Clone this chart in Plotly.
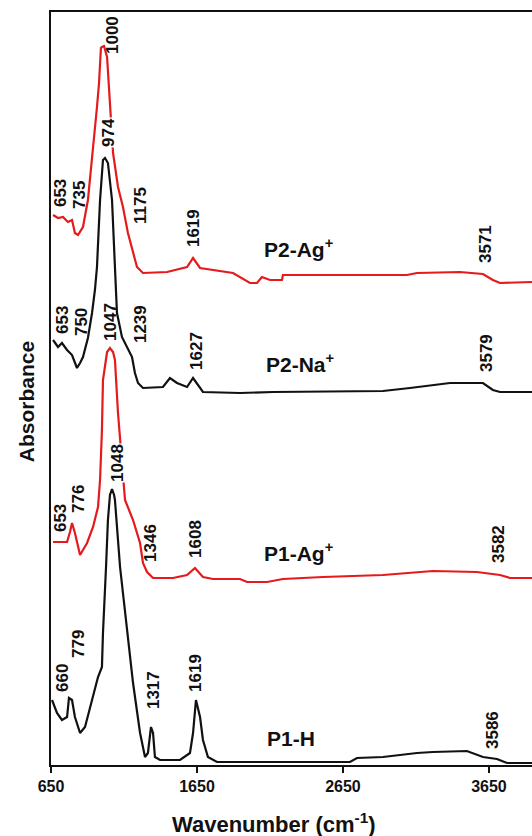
import plotly.graph_objects as go

# ---- data (wavenumber cm-1, absorbance a.u., offset-stacked) ----
p1h_wn = [657, 691, 725, 760, 773, 794, 814, 849, 883, 917, 951, 972, 999, 1006, 1027, 1040, 1054, 1068,
          1082, 1088, 1123, 1171, 1212, 1260, 1294, 1314, 1335, 1349, 1362, 1397, 1534, 1602, 1623, 1643,
          1671, 1691, 1725, 1787, 2698, 2746, 2924, 3157, 3266, 3499, 3540, 3609, 3705, 3774, 3945]
p1h_ab = [0.65, 0.52, 0.45, 0.48, 0.67, 0.65, 0.48, 0.32, 0.38, 0.58, 0.78, 0.88, 0.98, 1.32, 1.98, 2.45, 2.70, 2.76,
          2.70, 2.65, 1.98, 1.32, 0.82, 0.32, 0.08, 0.12, 0.38, 0.32, 0.08, 0.05, 0.05, 0.12, 0.32, 0.65,
          0.48, 0.25, 0.08, 0.03, 0.03, 0.07, 0.08, 0.12, 0.13, 0.14, 0.12, 0.08, 0.06, 0.02, 0.02]

p1ag_wn = [664, 760, 780, 794, 814, 849, 897, 938, 972, 986, 999, 1006, 1034, 1054, 1075, 1088, 1109, 1136,
           1157, 1212, 1260, 1280, 1308, 1349, 1486, 1582, 1636, 1691, 1760, 1945, 1993, 2130, 2239, 2513,
           2924, 3266, 3568, 3726, 3794, 3945]
p1ag_ab = [2.23, 2.23, 2.33, 2.42, 2.32, 2.10, 2.22, 2.38, 2.58, 2.85, 3.35, 3.85, 4.13, 4.17, 4.13, 4.05, 3.52, 3.02,
           2.65, 2.45, 2.22, 2.02, 1.93, 1.87, 1.87, 1.90, 1.97, 1.88, 1.86, 1.86, 1.83, 1.83, 1.86, 1.88,
           1.90, 1.94, 1.93, 1.90, 1.87, 1.87]

p2na_wn = [664, 698, 725, 760, 794, 828, 849, 869, 903, 931, 951, 965, 986, 1006, 1013, 1020, 1040, 1068, 1088,
           1102, 1136, 1171, 1205, 1225, 1246, 1280, 1417, 1465, 1513, 1582, 1623, 1691, 1945, 2171, 2924,
           3109, 3383, 3609, 3677, 3726, 3945]
p2na_ab = [4.25, 4.18, 4.22, 4.15, 4.10, 3.97, 4.02, 4.08, 4.27, 4.52, 4.75, 4.98, 5.65, 6.05, 6.06, 6.07, 6.02, 5.65, 4.98,
           4.52, 4.28, 4.18, 4.08, 3.92, 3.82, 3.77, 3.78, 3.87, 3.82, 3.78, 3.87, 3.73, 3.72, 3.73, 3.74,
           3.77, 3.82, 3.82, 3.75, 3.73, 3.73]

p2ag_wn = [664, 698, 732, 766, 794, 814, 835, 869, 903, 938, 965, 979, 992, 999, 1013, 1034, 1054, 1075, 1109,
           1143, 1177, 1212, 1239, 1280, 1445, 1582, 1623, 1671, 1897, 2013, 2061, 2095, 2150, 2232, 2239,
           3088, 3157, 3451, 3609, 3677, 3726, 3945]
p2ag_ab = [5.50, 5.47, 5.48, 5.43, 5.45, 5.32, 5.30, 5.38, 5.65, 6.15, 6.58, 6.82, 7.17, 7.18, 7.19, 7.08, 6.65, 6.12, 5.78,
           5.58, 5.32, 5.12, 4.98, 4.92, 4.93, 4.98, 5.07, 4.97, 4.92, 4.82, 4.82, 4.88, 4.85, 4.85, 4.90,
           4.90, 4.92, 4.93, 4.91, 4.85, 4.82, 4.83]

# peak labels: text, wavenumber position, absorbance position
peak_text = ["1000", "974", "653", "735", "1175", "1619", "3571",
             "653", "750", "1047", "1239", "1627", "3579",
             "653", "776", "1048", "1346", "1608", "3582",
             "660", "779", "1317", "1619", "3586"]
peak_x = [1068, 1040, 712, 842, 1260, 1623, 3623,
          725, 856, 1054, 1260, 1643, 3630,
          712, 835, 1102, 1328, 1636, 3712,
          725, 835, 1349, 1636, 3671]
peak_y = [7.30, 6.33, 5.72, 5.70, 5.59, 5.37, 5.21,
          4.45, 4.43, 4.43, 4.41, 4.14, 4.12,
          2.47, 2.66, 3.02, 2.22, 2.26, 2.21,
          0.87, 1.21, 0.75, 0.92, 0.35]
masked_labels = [1, 15]   # indices of labels drawn over a white box

series_names = ["P2-Ag<sup>+</sup>", "P2-Na<sup>+</sup>", "P1-Ag<sup>+</sup>", "P1-H"]
name_x = [2342, 2356, 2342, 2294]
name_y = [5.17, 4.02, 2.13, 0.27]

x_ticks = [650, 1650, 2650, 3650]

RED = "#e41a1c"
BLACK = "#111111"

fig = go.Figure()
for wn, ab, col in [(p1h_wn, p1h_ab, BLACK), (p1ag_wn, p1ag_ab, RED),
                    (p2na_wn, p2na_ab, BLACK), (p2ag_wn, p2ag_ab, RED)]:
    fig.add_trace(go.Scatter(x=wn, y=ab, mode="lines", line=dict(color=col, width=2.2),
                             showlegend=False, hoverinfo="skip"))

for i, (t, x, y) in enumerate(zip(peak_text, peak_x, peak_y)):
    fig.add_annotation(x=x, y=y, xref="x", yref="y", text="<b>" + t + "</b>", textangle=-90,
                       showarrow=False, xanchor="center", yanchor="middle",
                       font=dict(family="Liberation Sans", size=17, color="#111"),
                       bgcolor="white" if i in masked_labels else "rgba(0,0,0,0)",
                       borderpad=0)

for t, x, y in zip(series_names, name_x, name_y):
    fig.add_annotation(x=x, y=y, xref="x", yref="y", text="<b>" + t + "</b>", showarrow=False,
                       xanchor="center", yanchor="middle",
                       font=dict(family="Liberation Sans", size=21, color="#111"))

# axis titles
fig.add_annotation(x=0.464, y=-0.077, xref="paper", yref="paper", showarrow=False,
                   text="<b>Wavenumber (cm<sup>-1</sup>)</b>", xanchor="center", yanchor="middle",
                   font=dict(family="Liberation Sans", size=22, color="#111"))
fig.add_annotation(x=-0.052, y=0.483, xref="paper", yref="paper", showarrow=False,
                   text="<b>Absorbance</b>", textangle=-90, xanchor="center", yanchor="middle",
                   font=dict(family="Liberation Sans", size=21, color="#111"))

fig.update_layout(
    width=532, height=836,
    margin=dict(l=51, r=0, t=12, b=71),
    plot_bgcolor="white", paper_bgcolor="white",
    font=dict(family="Liberation Sans", color="#111"),
)
fig.update_xaxes(range=[650, 3945], tickvals=x_ticks, ticktext=[f"<b>{v}</b>" for v in x_ticks],
                 ticks="outside", ticklen=6, tickwidth=2, tickcolor="#111",
                 showline=True, linewidth=2, linecolor="#111", mirror=True,
                 showgrid=False, zeroline=False, automargin=False,
                 tickfont=dict(size=16, family="Liberation Sans"))
fig.update_yaxes(range=[0, 7.53], showticklabels=False, ticks="",
                 showline=True, linewidth=2, linecolor="#111",
                 showgrid=False, zeroline=False, automargin=False)

fig.write_html("out.html", config={"displayModeBar": False},
               post_script="document.body.style.margin='0';document.body.style.overflow='hidden';")
